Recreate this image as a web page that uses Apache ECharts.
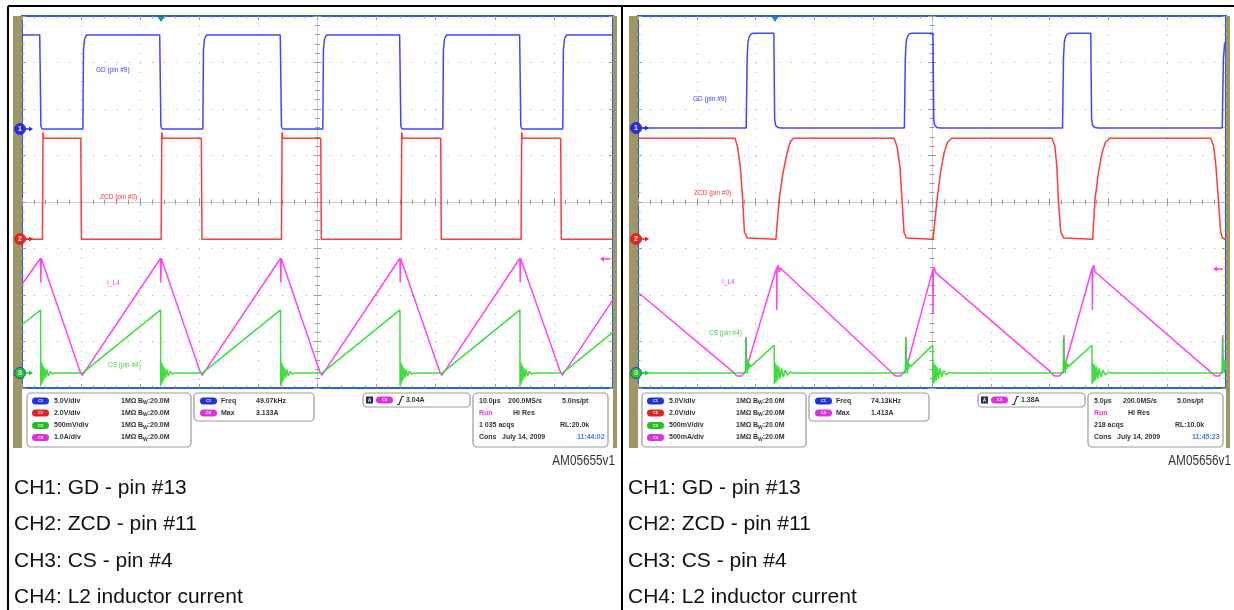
<!DOCTYPE html>
<html><head><meta charset="utf-8">
<script src="https://cdn.jsdelivr.net/npm/echarts@6/dist/echarts.min.js"></script>
<style>html,body{margin:0;padding:0;background:#fff}#c{width:1234px;height:610px}</style>
</head><body><div id="c"></div>
<script>
// ================= DATA =================
// time axis [min, max, step] in microseconds
const leftTimeAxis = [-50, 50, 10];
const rightTimeAxis = [-25, 25, 5];
const vertAxis = [-4, 4, 1]; // divisions
// channel scales (units/div) and ground offsets (div) : CH1 GD, CH2 ZCD, CH3 CS, CH4 IL
const leftScales = [5, 2, 0.5, 1.0];
const leftOffsets = [1.57, -0.80, -3.68, -3.70];
const rightScales = [5, 2, 0.5, 0.5];
const rightOffsets = [1.59, -0.80, -3.68, -3.70];

// ---- left capture (10 us/div) ----
const gdLeft = [[-50,10.1],[-47.0,10.1],[-46.8,0.3],[-46.6,0],[-39.7,0],[-39.6,8.5],[-39.4,9.7],[-39.1,10.1],[-26.7,10.1],[-26.5,0.3],[-26.3,0],[-19.4,0],[-19.3,8.5],[-19.1,9.7],[-18.8,10.1],[-6.3,10.1],[-6.1,0.3],[-5.9,0],[0.9,0],[1.0,8.5],[1.2,9.7],[1.5,10.1],[13.9,10.1],[14.1,0.3],[14.3,0],[21.2,0],[21.3,8.5],[21.5,9.7],[21.8,10.1],[34.2,10.1],[34.4,0.3],[34.6,0],[41.5,0],[41.6,8.5],[41.8,9.7],[42.1,10.1],[50,10.1]];
const zcdLeft = [[-50,0],[-46.55,0],[-46.45,4.6],[-46.3,4.34],[-40.05,4.34],[-39.95,0],[-26.45,0],[-26.35,4.6],[-26.2,4.34],[-19.65,4.34],[-19.55,0],[-6.1,0],[-6.0,4.6],[-5.85,4.34],[0.55,4.34],[0.65,0],[14.15,0],[14.25,4.6],[14.4,4.34],[20.85,4.34],[20.95,0],[34.45,0],[34.55,4.6],[34.7,4.34],[41.15,4.34],[41.25,0],[50,0]];
const ilLeft = [[-50,1.93],[-46.85,2.49],[-46.8,1.97],[-46.75,2.49],[-40.1,0.03],[-39.8,-0.03],[-39.5,0.03],[-26.55,2.49],[-26.5,1.97],[-26.45,2.49],[-19.8,0.03],[-19.5,-0.03],[-19.2,0.03],[-6.25,2.49],[-6.2,1.97],[-6.15,2.49],[0.45,0.03],[0.75,-0.03],[1.05,0.03],[13.95,2.49],[14.0,1.97],[14.05,2.49],[20.75,0.03],[21.05,-0.03],[21.35,0.03],[34.25,2.49],[34.3,1.97],[34.35,2.49],[41.15,0.03],[41.45,-0.03],[41.75,0.03],[50,1.6]];
const csLeft = [[-50,0.52],[-46.85,0.68],
 [-46.83,-0.14],[-46.72,0.12],[-46.6,-0.11],[-46.48,0.09],[-46.35,-0.08],[-46.2,0.06],[-46.0,-0.05],[-45.8,0.04],[-45.55,-0.03],[-45.25,0.02],[-44.9,-0.01],[-44.5,0],
 [-39.8,0],[-26.55,0.68],
 [-26.53,-0.14],[-26.42,0.12],[-26.3,-0.11],[-26.18,0.09],[-26.05,-0.08],[-25.9,0.06],[-25.7,-0.05],[-25.5,0.04],[-25.25,-0.03],[-24.95,0.02],[-24.6,-0.01],[-24.2,0],
 [-19.5,0],[-6.25,0.68],
 [-6.23,-0.14],[-6.12,0.12],[-6.0,-0.11],[-5.88,0.09],[-5.75,-0.08],[-5.6,0.06],[-5.4,-0.05],[-5.2,0.04],[-4.95,-0.03],[-4.65,0.02],[-4.3,-0.01],[-3.9,0],
 [0.75,0],[13.95,0.68],
 [13.97,-0.14],[14.08,0.12],[14.2,-0.11],[14.32,0.09],[14.45,-0.08],[14.6,0.06],[14.8,-0.05],[15.0,0.04],[15.25,-0.03],[15.55,0.02],[15.9,-0.01],[16.3,0],
 [21.05,0],[34.25,0.68],
 [34.27,-0.14],[34.38,0.12],[34.5,-0.11],[34.62,0.09],[34.75,-0.08],[34.9,0.06],[35.1,-0.05],[35.3,0.04],[35.55,-0.03],[35.85,0.02],[36.2,-0.01],[36.6,0],
 [41.45,0],[50,0.44]];

// ---- right capture (5 us/div) ----
const gdRight = [[-25,0],[-15.8,0],[-15.72,7.5],[-15.65,9.2],[-15.55,9.8],[-15.4,10.1],[-15.2,10.2],[-13.45,10.2],[-13.38,1.0],[-13.3,0.3],[-13.1,0.05],[-12.8,0],
 [-2.35,0],[-2.27,7.5],[-2.2,9.2],[-2.1,9.8],[-1.95,10.1],[-1.75,10.2],[0.08,10.2],[0.15,1.0],[0.23,0.3],[0.43,0.05],[0.73,0],
 [11.1,0],[11.18,7.5],[11.25,9.2],[11.35,9.8],[11.5,10.1],[11.7,10.2],[13.5,10.2],[13.57,1.0],[13.65,0.3],[13.85,0.05],[14.15,0],
 [24.68,0],[24.78,7.5],[24.88,9.0],[25,9.4]];
const zcdRight = [[-25,4.34],[-16.75,4.34],[-16.55,4.0],[-16.3,3.1],[-16.1,1.7],[-15.95,0.3],[-15.85,0.35],[-15.7,0.05],[-15.55,0],
 [-13.27,0],[-13.0,1.7],[-12.67,2.85],[-12.33,3.7],[-12.07,4.17],[-11.8,4.34],
 [-3.23,4.34],[-2.98,4.0],[-2.72,3.1],[-2.55,1.7],[-2.38,0.3],[-2.3,0.35],[-2.17,0.05],[-2.04,0],
 [0.09,0],[0.43,1.7],[0.72,2.85],[1.02,3.7],[1.32,4.17],[1.68,4.34],
 [10.2,4.34],[10.45,4.0],[10.62,3.1],[10.74,1.7],[10.95,0.3],[11.05,0.35],[11.2,0.05],[11.3,0],
 [13.66,0],[13.86,1.7],[14.15,2.85],[14.45,3.7],[14.75,4.17],[15.14,4.34],
 [23.7,4.34],[23.95,4.0],[24.15,3.1],[24.35,1.7],[24.55,0.3],[24.62,0.35],[24.7,0.05],[24.8,0],[25,0]];
const ilRight = [[-25,0.88],[-16.9,0.02],[-16.6,-0.02],[-16.2,-0.02],[-15.9,0.02],[-15.82,0.05],[-15.8,0.40],[-15.78,0.06],[-15.65,0.06],
 [-13.22,1.14],[-13.2,0.69],[-13.18,1.14],[-13.1,1.17],[-13.0,1.10],[-12.9,1.14],
 [-3.45,0.02],[-3.1,-0.02],[-2.7,-0.02],[-2.4,0.02],[-2.23,0.05],[-2.21,0.40],[-2.19,0.06],[-2.05,0.06],
 [0.07,1.12],[0.09,0.65],[0.11,1.12],[0.2,1.15],[0.3,1.09],[0.4,1.11],
 [10.1,0.02],[10.4,-0.02],[10.85,-0.02],[11.1,0.02],[11.2,0.05],[11.22,0.42],[11.24,0.06],[11.35,0.06],
 [13.62,1.14],[13.64,0.69],[13.66,1.14],[13.75,1.17],[13.85,1.10],[13.95,1.12],
 [23.7,0.02],[24.1,-0.02],[24.45,-0.02],[24.64,0.02],[24.7,0.05],[24.72,0.42],[24.74,0.06],[25,0.12]];
const csRight = [[-25,0],[-15.86,0],[-15.84,0.38],[-15.8,0.04],[-15.75,0.16],[-15.7,0.0],[-15.64,0.13],[-15.58,0.04],[-15.5,0.1],[-15.42,0.07],[-13.42,0.3],
 [-13.4,-0.12],[-13.34,0.11],[-13.27,-0.1],[-13.2,0.09],[-13.12,-0.08],[-13.03,0.07],[-12.93,-0.06],[-12.8,0.05],[-12.65,-0.04],[-12.48,0.03],[-12.28,-0.02],[-12.05,0.01],[-11.75,0],
 [-2.26,0],[-2.24,0.38],[-2.2,0.04],[-2.15,0.16],[-2.1,0.0],[-2.04,0.13],[-1.98,0.04],[-1.9,0.1],[-1.82,0.07],[0.06,0.3],
 [0.08,-0.12],[0.14,0.11],[0.21,-0.1],[0.28,0.09],[0.36,-0.08],[0.45,0.07],[0.55,-0.06],[0.68,0.05],[0.83,-0.04],[1.0,0.03],[1.2,-0.02],[1.43,0.01],[1.73,0],
 [11.16,0],[11.18,0.38],[11.22,0.04],[11.27,0.16],[11.32,0.0],[11.38,0.13],[11.44,0.04],[11.52,0.1],[11.6,0.07],[13.6,0.3],
 [13.62,-0.12],[13.68,0.11],[13.75,-0.1],[13.82,0.09],[13.9,-0.08],[13.99,0.07],[14.09,-0.06],[14.22,0.05],[14.37,-0.04],[14.54,0.03],[14.74,-0.02],[14.97,0.01],[15.27,0],
 [24.68,0],[24.7,0.38],[24.74,0.04],[24.79,0.16],[24.84,0.0],[24.9,0.13],[24.96,0.04],[25,0.09]];

// ---- texts ----
const traceLabels = ['GD (pin #9)', 'ZCD (pin #0)', 'I_L4', 'CS (pin #4)'];
const leftVdiv = ['5.0V/div', '2.0V/div', '500mV/div', '1.0A/div'];
const rightVdiv = ['5.0V/div', '2.0V/div', '500mV/div', '500mA/div'];
const leftMeas = [['Freq', '49.07kHz'], ['Max', '3.133A']];
const rightMeas = [['Freq', '74.13kHz'], ['Max', '1.413A']];
const leftTrig = '3.04A', rightTrig = '1.38A';
const leftAcq = [['10.0µs', '200.0MS/s', '5.0ns/pt'], ['Run', 'Hi Res', ''], ['1 035 acqs', '', 'RL:20.0k'], ['Cons', 'July 14, 2009', '11:44:02']];
const rightAcq = [['5.0µs', '200.0MS/s', '5.0ns/pt'], ['Run', 'Hi Res', ''], ['218 acqs', '', 'RL:10.0k'], ['Cons', 'July 14, 2009', '11:45:23']];
const figIds = ['AM05655v1', 'AM05656v1'];
const captions = ['CH1: GD - pin #13', 'CH2: ZCD - pin #11', 'CH3: CS - pin #4', 'CH4: L2 inductor current'];

// ================= CHART =================
const COL = ['#3a3aff', '#ff3030', '#ff38f5', '#33dd33'];
const chart = echarts.init(document.getElementById('c'), null, {renderer: 'canvas'});
const grids = [
  {left: 22, top: 16, width: 591, height: 372},
  {left: 638, top: 16, width: 588, height: 372}
].map(g => Object.assign(g, {show: true, borderColor: '#2462d8', borderWidth: 2, backgroundColor: '#fff', containLabel: false, outerBoundsMode: 'none'}));

const xAxes = [], yAxes = [], mainIdx = [];
function addAxes(gi, xr, dotAlongX, dotAlongY) {
  const tickC = '#9a9a9a';
  const base = {gridIndex: gi, type: 'value', axisLabel: {show: false}, splitLine: {show: false}, silent: true};
  const tick = inside => ({show: true, inside, length: 4, lineStyle: {color: tickC, width: 1}});
  const minor = {show: true, splitNumber: 5, length: 2.5, lineStyle: {color: tickC, width: 1}};
  const xi = xAxes.length, yi = yAxes.length;
  const xs = {min: xr[0], max: xr[1], interval: xr[2]};
  const ys = {min: vertAxis[0], max: vertAxis[1], interval: vertAxis[2]};
  xAxes.push(Object.assign({}, base, xs, {position: 'bottom', axisLine: {show: false, onZero: false}, axisTick: tick(true), minorTick: minor,
    splitLine: {show: true, showMinLine: false, showMaxLine: false, lineStyle: {color: '#a8a8a8', width: 1, type: [1, dotAlongY - 1]}}}));
  xAxes.push(Object.assign({}, base, xs, {position: 'top', axisLine: {show: false, onZero: false}, axisTick: tick(true), minorTick: minor}));
  xAxes.push(Object.assign({}, base, xs, {position: 'bottom', axisLine: {show: true, onZero: true, onZeroAxisIndex: yi, lineStyle: {color: '#cfcfcf', width: 1}}, axisTick: tick(true), minorTick: minor}));
  xAxes.push(Object.assign({}, base, xs, {position: 'bottom', axisLine: {show: false, onZero: true, onZeroAxisIndex: yi}, axisTick: tick(false), minorTick: minor}));
  yAxes.push(Object.assign({}, base, ys, {position: 'left', axisLine: {show: false, onZero: false}, axisTick: tick(true), minorTick: minor,
    splitLine: {show: true, showMinLine: false, showMaxLine: false, lineStyle: {color: '#a8a8a8', width: 1, type: [1, dotAlongX - 1]}}}));
  yAxes.push(Object.assign({}, base, ys, {position: 'right', axisLine: {show: false, onZero: false}, axisTick: tick(true), minorTick: minor}));
  yAxes.push(Object.assign({}, base, ys, {position: 'left', axisLine: {show: true, onZero: true, onZeroAxisIndex: xi, lineStyle: {color: '#cfcfcf', width: 1}}, axisTick: tick(true), minorTick: minor}));
  yAxes.push(Object.assign({}, base, ys, {position: 'left', axisLine: {show: false, onZero: true, onZeroAxisIndex: xi}, axisTick: tick(false), minorTick: minor}));
  mainIdx.push([xi, yi]);
}
addAxes(0, leftTimeAxis, 591 / 50, 372 / 40);
addAxes(1, rightTimeAxis, 588 / 50, 372 / 40);

function trace(gi, data, off, sc, color) {
  return {type: 'line', xAxisIndex: mainIdx[gi][0], yAxisIndex: mainIdx[gi][1], data: data.map(p => [p[0], off + p[1] / sc]),
    symbol: 'none', showSymbol: false, lineStyle: {color, width: 1.5, opacity: 0.95}, silent: true, animation: false, clip: true, z: 3};
}
const series = [];
[[gdLeft, zcdLeft, csLeft, ilLeft], [gdRight, zcdRight, csRight, ilRight]].forEach((set, gi) => {
  const sc = gi ? rightScales : leftScales, of = gi ? rightOffsets : leftOffsets;
  series.push(trace(gi, set[0], of[0], sc[0], COL[0]));
  series.push(trace(gi, set[1], of[1], sc[1], COL[1]));
  series.push(trace(gi, set[3], of[3], sc[3], COL[2]));
  series.push(trace(gi, set[2], of[2], sc[2], COL[3]));
});

// ================= DECORATION =================
const FONT = '"Liberation Sans", Arial, sans-serif';
const g = [];
function T(x, y, text, o) {
  o = o || {};
  const el = {type: 'text', x, y, z: o.z || 10, silent: true, style: Object.assign({text, fill: o.fill || '#333',
    font: (o.weight || 'bold') + ' ' + (o.size || 7) + 'px ' + FONT, align: o.align || 'left', verticalAlign: o.va || 'middle',
    textAlign: o.align || 'left', textVerticalAlign: o.va || 'middle'}, o.rich ? {rich: o.rich} : {})};
  if (o.scaleX) el.scaleX = o.scaleX;
  g.push(el);
}
function R(x, y, w, h, style, r, z) { g.push({type: 'rect', z: z || 5, silent: true, shape: {x, y, width: w, height: h, r: r || 0}, style}); }
function L(x1, y1, x2, y2, stroke, w, z) { g.push({type: 'line', z: z || 6, silent: true, shape: {x1, y1, x2, y2}, style: {stroke, lineWidth: w}}); }
function P(points, fill, z) { g.push({type: 'polygon', z: z || 8, silent: true, shape: {points}, style: {fill}}); }
function pill(x, y, ch, col) {
  R(x, y - 3.5, 17, 7, {fill: col}, 3.5, 9);
  T(x + 8.5, y, 'C' + ch, {fill: '#fff', size: 4, align: 'center'});
}

// table frame
L(8, 6, 1234, 6, '#000', 2, 20);
L(8, 6, 8, 610, '#000', 2, 20);
L(622, 6, 622, 610, '#000', 2, 20);

const OLIVE = '#9d9767';
const panels = [
  {ox: 0, gx: 22, gw: 591, meas: leftMeas, vdiv: leftVdiv, trig: leftTrig, acq: leftAcq, id: figIds[0], capX: 14,
   labels: [[96, 70], [100, 197], [107, 283], [108, 365]], trigX: 161, arrowY: 259, gnd: [129, 239, 373]},
  {ox: 615, gx: 638, gw: 588, meas: rightMeas, vdiv: rightVdiv, trig: rightTrig, acq: rightAcq, id: figIds[1], capX: 628,
   labels: [[693, 99], [694, 193], [722, 282], [709, 333]], trigX: 775, arrowY: 269, gnd: [128, 239, 373]}
];
panels.forEach((p, pi) => {
  const o = p.ox;
  // olive bezel
  R(p.gx - 9, 16, 9, 432, {fill: OLIVE}, 0, 4);
  R(p.gx + p.gw, 16, 4, 432, {fill: OLIVE}, 0, 4);
  // trace labels
  traceLabels.forEach((t, i) => T(p.labels[i][0], p.labels[i][1], t, {fill: COL[i], size: 6.5, weight: 'normal'}));
  // ground markers
  [[p.gnd[0], '#2a2ae0', '1', null], [p.gnd[1], '#ee2020', '2', null], [p.gnd[2], '#22cc22', '3', '#2040c0']].forEach(m => {
    const cx = p.gx - 2;
    g.push({type: 'circle', z: 12, silent: true, shape: {cx, cy: m[0], r: 5.5}, style: {fill: m[1], stroke: m[3] || m[1], lineWidth: 1}});
    T(cx, m[0] + 0.5, m[2], {fill: '#fff', size: 7, align: 'center', z: 13});
    L(cx + 5, m[0], cx + 10, m[0], m[1], 1.5, 12);
    P([[cx + 13, m[0]], [cx + 9, m[0] - 2.5], [cx + 9, m[0] + 2.5]], m[1], 12);
  });
  // trigger position marker (top)
  P([[p.trigX - 3.5, 17], [p.trigX + 3.5, 17], [p.trigX, 22]], '#1d9a86', 12);
  // trigger level arrow (right)
  const ax = p.gx + p.gw - 13;
  P([[ax, p.arrowY], [ax + 4, p.arrowY - 2.5], [ax + 4, p.arrowY + 2.5]], COL[2], 12);
  L(ax + 3, p.arrowY, ax + 10, p.arrowY, COL[2], 1.5, 12);

  // info boxes
  const bs = {fill: '#fff', stroke: '#9a9a9a', lineWidth: 1.2};
  const rows = [401, 413, 425.5, 437.5];
  const pc = ['#2233dd', '#e02222', '#22c022', '#e030e0'];
  const b1 = 27 + o;
  R(b1, 393, 164, 54, bs, 4, 5);
  p.vdiv.forEach((v, i) => {
    pill(b1 + 5, rows[i], i + 1, pc[i]);
    T(b1 + 27, rows[i], v);
    T(b1 + 94, rows[i], '1MΩ');
    T(b1 + 111, rows[i], '{a|B}{s|W}{a|:20.0M}', {rich: {a: {font: 'bold 7px ' + FONT, fill: '#333'}, s: {font: 'bold 5px ' + FONT, fill: '#333', padding: [4, 0, 0, 0]}}});
  });
  const b2 = 194 + o;
  R(b2, 393, 120, 28, bs, 4, 5);
  p.meas.forEach((m, i) => {
    pill(b2 + 6, rows[i], i ? 4 : 1, i ? pc[3] : pc[0]);
    T(b2 + 27, rows[i], m[0]);
    T(b2 + 62, rows[i], m[1]);
  });
  const b3 = 363 + o;
  R(b3, 393, 107, 14, bs, 4, 5);
  R(b3 + 3, 396.5, 7, 7, {fill: '#1e2a5a'}, 0, 9);
  T(b3 + 6.5, 400.3, 'A', {fill: '#fff', size: 5, align: 'center'});
  pill(b3 + 13, 400, 4, pc[3]);
  g.push({type: 'polyline', z: 9, silent: true, shape: {points: [[b3 + 34, 404.5], [b3 + 36, 404.5], [b3 + 39, 396.5], [b3 + 41, 396.5]]}, style: {stroke: '#333', lineWidth: 1.2, fill: null}});
  T(b3 + 43, 400, p.trig);
  const b4 = 473 + o;
  R(b4, 393, 135, 54, bs, 4, 5);
  p.acq.forEach((r, i) => {
    T(b4 + 6, rows[i], r[0], {fill: i === 1 ? '#ee33ee' : '#333'});
    if (r[1]) T(b4 + (i === 1 ? 40 : i === 3 ? 29 : 35), rows[i], r[1]);
    if (r[2]) T(b4 + (i === 3 ? 104 : i === 2 ? 87 : 89), rows[i], r[2], {fill: i === 3 ? '#3f7fe8' : '#333'});
  });
  // figure id
  T(615 + o + (pi ? 1 : 0), 461, p.id, {fill: '#333', size: 14, weight: 'normal', align: 'right', scaleX: 0.84});
  // captions
  captions.forEach((c, i) => T(p.capX, [488, 524, 561, 597][i], c, {fill: '#111', size: 21, weight: 'normal'}));
});

chart.setOption({
  animation: false,
  backgroundColor: '#fff',
  grid: grids,
  xAxis: xAxes,
  yAxis: yAxes,
  series,
  graphic: {elements: g}
});
</script>
</body></html>
